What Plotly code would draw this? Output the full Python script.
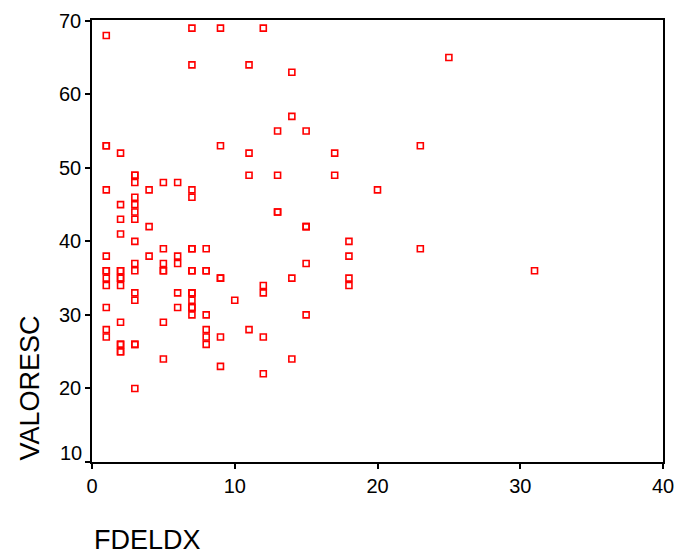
import plotly.graph_objects as go

# FDELDX values and the VALORESC values observed at each
fdeldx_levels = [1, 2, 3, 4, 5, 6, 7, 8, 9, 10, 11, 12, 13, 14, 15, 17, 18, 20, 23, 25, 31]
valoresc_by_level = [
    [68, 53, 53, 47, 38, 36, 36, 35, 34, 31, 28, 27],
    [52, 45, 43, 41, 36, 36, 35, 35, 34, 29, 26, 26, 25, 25],
    [49, 49, 48, 46, 45, 44, 43, 40, 37, 36, 33, 32, 26, 26, 20],
    [47, 42, 38],
    [48, 39, 37, 36, 36, 29, 24],
    [48, 38, 37, 33, 31],
    [69, 64, 47, 46, 39, 39, 36, 36, 33, 33, 32, 31, 31, 30],
    [39, 36, 36, 30, 28, 27, 26],
    [69, 53, 35, 35, 27, 23],
    [32],
    [64, 52, 49, 28],
    [69, 34, 33, 27, 22],
    [55, 49, 44, 44],
    [63, 57, 35, 24],
    [55, 42, 42, 37, 30],
    [52, 49],
    [40, 38, 35, 34],
    [47],
    [53, 39],
    [65],
    [36],
]

x_ticks = [0, 10, 20, 30, 40]
y_ticks = [10, 20, 30, 40, 50, 60, 70]
y_ticktext = ["", "20", "30", "40", "50", "60", "70"]  # "10" drawn lifted, as in source

fdeldx = []
valoresc = []
for lvl, vals in zip(fdeldx_levels, valoresc_by_level):
    for v in vals:
        fdeldx.append(lvl)
        valoresc.append(v)

FONT = "Liberation Sans, Arial, sans-serif"

fig = go.Figure()
fig.add_trace(go.Scatter(
    x=fdeldx, y=valoresc, mode="markers",
    marker=dict(symbol="square-open", size=6, color="#ff0000",
                line=dict(width=1.6, color="#ff0000")),
    showlegend=False, cliponaxis=False,
))

axis_common = dict(
    showgrid=False, zeroline=False, showline=True, linecolor="black",
    linewidth=1.5, mirror=True, ticks="outside", ticklen=5, tickwidth=1.5,
    tickcolor="black", tickfont=dict(family=FONT, size=20, color="black"),
    automargin=False, ticklabeloverflow="allow",
)

fig.update_layout(
    width=674, height=554,
    margin=dict(l=92, r=11, t=20, b=92),
    paper_bgcolor="white", plot_bgcolor="white",
    font=dict(family=FONT, color="black"),
    xaxis=dict(range=[0, 40], tickvals=x_ticks, **axis_common),
    yaxis=dict(range=[10, 70.1], tickvals=y_ticks, ticktext=y_ticktext, **axis_common),
    annotations=[
        dict(text=str(y_ticks[0]), xref="paper", yref="y", x=0, y=y_ticks[0],
             xanchor="right", yanchor="middle", xshift=-8, yshift=9,
             showarrow=False, font=dict(family=FONT, size=20, color="black")),
        dict(text="VALORESC", xref="paper", yref="paper", x=-0.1086, y=0,
             xanchor="center", yanchor="bottom", textangle=-90, showarrow=False,
             font=dict(family=FONT, size=27, color="black")),
        dict(text="FDELDX", xref="paper", yref="paper", x=0, y=-0.1765,
             xanchor="left", yanchor="middle", showarrow=False,
             font=dict(family=FONT, size=27, color="black")),
    ],
)

fig.write_html("out.html")
